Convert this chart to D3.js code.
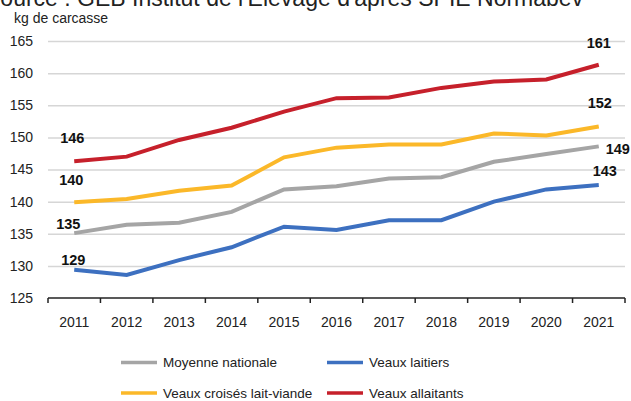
<!DOCTYPE html>
<html>
<head>
<meta charset="utf-8">
<script src="https://cdn.jsdelivr.net/npm/d3@7"></script>
<style>
  body { margin: 0; background: #fff; }
  text { font-family: "Liberation Sans", Arial, sans-serif; }
</style>
</head>
<body>
<div id="canvas"></div>
<script>
"use strict"

// data
let years = ["2011", "2012", "2013", "2014", "2015", "2016", "2017", "2018", "2019", "2020", "2021"]
let moyenneNationale = [135.1, 136.4, 136.7, 138.4, 141.9, 142.4, 143.6, 143.8, 146.2, 147.4, 148.6]
let veauxLaitiers = [129.4, 128.6, 130.9, 132.9, 136.1, 135.6, 137.1, 137.1, 140.0, 141.9, 142.6]
let veauxCroises = [139.9, 140.4, 141.7, 142.5, 146.9, 148.4, 148.9, 148.9, 150.6, 150.3, 151.7]
let veauxAllaitants = [146.3, 147.0, 149.6, 151.5, 154.0, 156.1, 156.2, 157.7, 158.7, 159.0, 161.3]
let yTicks = [125, 130, 135, 140, 145, 150, 155, 160, 165]

let seriesNames = ["Moyenne nationale", "Veaux laitiers", "Veaux croisés lait-viande", "Veaux allaitants"]
let seriesValues = [moyenneNationale, veauxLaitiers, veauxCroises, veauxAllaitants]
let seriesColors = ["#a5a5a5", "#3d70c0", "#fbb829", "#c6202b"]

let drawing = d3.select("#canvas")
    .append("svg")
    .attr("width", 631)
    .attr("height", 401)

// scales
let x = d3.scaleBand().domain(years).range([48, 625])
let y = d3.scaleLinear().domain([125, 165]).range([298, 41])

// title, cut at the top like the original
drawing.append("text")
    .attr("x", -15)
    .attr("y", 6)
    .attr("font-size", 23)
    .attr("fill", "#222")
    .text("Source : GEB Institut de l'Elevage d'après SPIE Normabev")

drawing.append("text") // unit
    .attr("x", 14)
    .attr("y", 23)
    .attr("font-size", 14)
    .attr("fill", "#222")
    .text("kg de carcasse")

// y axis with gridlines
let yAxis = drawing.append("g")
    .attr("transform", "translate(48,0)")
    .call(d3.axisLeft(y).tickValues(yTicks).tickSize(-(625 - 48)).tickPadding(15))
yAxis.select(".domain").remove()
yAxis.selectAll(".tick line")
    .attr("stroke", "#d6d6d6")
    .attr("stroke-width", 1.5)
yAxis.selectAll(".tick text")
    .attr("font-size", 14)
    .attr("fill", "#222")
    .attr("font-family", "Liberation Sans, Arial, sans-serif")
yAxis.selectAll(".tick").filter(d => d === 125).select("line").remove()

// x axis: baseline, ticks between years, labels centered
let xAxis = drawing.append("g")
xAxis.append("line")
    .attr("x1", 48)
    .attr("x2", 625)
    .attr("y1", y(125))
    .attr("y2", y(125))
    .attr("stroke", "#222")
    .attr("stroke-width", 1.5)
let edges = years.map(d => x(d)).concat([x(years[years.length - 1]) + x.bandwidth()])
xAxis.selectAll(".edge")
    .data(edges)
    .join("line")
    .attr("x1", d => d)
    .attr("x2", d => d)
    .attr("y1", y(125))
    .attr("y2", y(125) + 5)
    .attr("stroke", "#222")
    .attr("stroke-width", 1.5)
xAxis.selectAll(".yearLabel")
    .data(years)
    .join("text")
    .attr("x", d => x(d) + x.bandwidth() / 2)
    .attr("y", 327)
    .attr("text-anchor", "middle")
    .attr("font-size", 14)
    .attr("fill", "#222")
    .text(d => d)

// lines
let line = d3.line()
    .x((d, i) => x(years[i]) + x.bandwidth() / 2)
    .y(d => y(d))

seriesValues.forEach((vals, k) => {
    drawing.append("path")
        .attr("d", line(vals))
        .attr("fill", "none")
        .attr("stroke", seriesColors[k])
        .attr("stroke-width", 4)
})

// first / last value labels (offsets from the point)
let labelOffsets = [
    { s: 0, i: 0, dx: -6, dy: -9 },
    { s: 1, i: 0, dx: -1, dy: -10 },
    { s: 2, i: 0, dx: -3, dy: -22 },
    { s: 3, i: 0, dx: -2, dy: -23 },
    { s: 0, i: 10, dx: 19, dy: 3 },
    { s: 1, i: 10, dx: 6, dy: -14 },
    { s: 2, i: 10, dx: 1, dy: -23 },
    { s: 3, i: 10, dx: 0, dy: -22 }
]
drawing.selectAll(".valueLabel")
    .data(labelOffsets)
    .join("text")
    .attr("x", d => x(years[d.i]) + x.bandwidth() / 2 + d.dx)
    .attr("y", d => y(seriesValues[d.s][d.i]) + d.dy)
    .attr("text-anchor", "middle")
    .attr("dominant-baseline", "central")
    .attr("font-size", 14.5)
    .attr("font-weight", "bold")
    .attr("fill", "#111")
    .text(d => Math.round(seriesValues[d.s][d.i]))

// legend, two rows of two
let legend = drawing.selectAll(".legend")
    .data(seriesNames)
    .join("g")
    .attr("transform", (d, k) => "translate(" + (k % 2 === 0 ? 121 : 327) + "," + (k < 2 ? 362.5 : 393) + ")")
legend.append("line")
    .attr("x1", 0)
    .attr("x2", 36)
    .attr("stroke", (d, k) => seriesColors[k])
    .attr("stroke-width", 3.5)
legend.append("text")
    .attr("x", 42)
    .attr("y", 0)
    .attr("dominant-baseline", "central")
    .attr("font-size", 13.5)
    .attr("fill", "#222")
    .text(d => d)
</script>
</body>
</html>
